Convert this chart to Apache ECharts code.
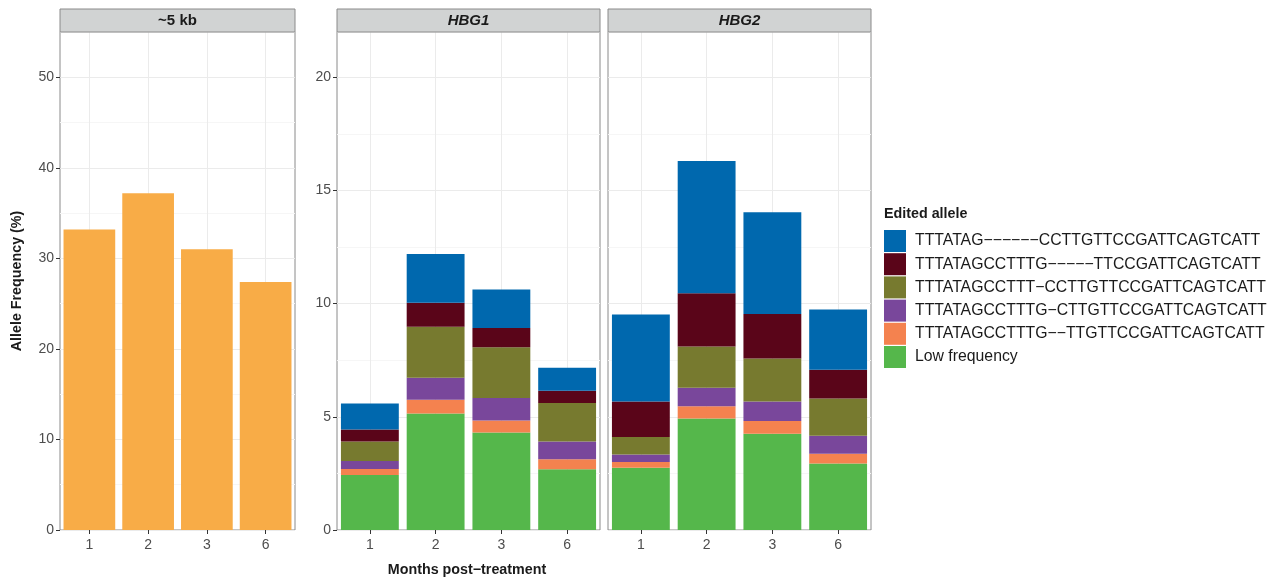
<!DOCTYPE html>
<html>
<head>
<meta charset="utf-8">
<script src="https://cdn.jsdelivr.net/npm/echarts@6/dist/echarts.min.js"></script>
<style>
html,body{margin:0;padding:0;background:#fff;}
#chart{width:1285px;height:582px;}
</style>
</head>
<body>
<div id="chart"></div>
<script>
// ---- data ----
const months = ['1', '2', '3', '6'];
const panelTitles = ['~5 kb', 'HBG1', 'HBG2'];
const kb5Values = [33.2, 37.2, 31.0, 27.4];
const alleleNames = [
  'TTTATAG\u2212\u2212\u2212\u2212\u2212\u2212CCTTGTTCCGATTCAGTCATT',
  'TTTATAGCCTTTG\u2212\u2212\u2212\u2212\u2212TTCCGATTCAGTCATT',
  'TTTATAGCCTTT\u2212CCTTGTTCCGATTCAGTCATT',
  'TTTATAGCCTTTG\u2212CTTGTTCCGATTCAGTCATT',
  'TTTATAGCCTTTG\u2212\u2212TTGTTCCGATTCAGTCATT',
  'Low frequency'
];
// HBG1 segments (bottom to top: low, orange, purple, olive, maroon, blue)
const hbg1Low    = [2.43, 5.15, 4.31, 2.68];
const hbg1Del2   = [0.26, 0.60, 0.53, 0.45];
const hbg1Del1G  = [0.36, 0.98, 0.99, 0.78];
const hbg1Del1T  = [0.86, 2.25, 2.24, 1.70];
const hbg1Del5   = [0.53, 1.06, 0.85, 0.54];
const hbg1Del6   = [1.15, 2.15, 1.71, 1.02];
// HBG2 segments
const hbg2Low    = [2.75, 4.93, 4.25, 2.94];
const hbg2Del2   = [0.25, 0.54, 0.56, 0.43];
const hbg2Del1G  = [0.33, 0.81, 0.87, 0.79];
const hbg2Del1T  = [0.78, 1.83, 1.90, 1.65];
const hbg2Del5   = [1.57, 2.35, 1.96, 1.27];
const hbg2Del6   = [3.84, 5.84, 4.50, 2.66];
const yTicksLeft = [0, 10, 20, 30, 40, 50];
const yTicksRight = [0, 5, 10, 15, 20];

// ---- styles ----
const alleleColors = ['#0068AE', '#5A0519', '#777A2F', '#79479B', '#F4824F', '#55B74B'];
const kbColor = '#F8AC47';
const FONT = 'Liberation Sans, Arial, sans-serif';
const grids = [
  {left: 60, top: 32, width: 235, height: 498},
  {left: 337, top: 32, width: 263, height: 498},
  {left: 608, top: 32, width: 263, height: 498}
];
const yMax = [55, 22, 22];
const showYLabels = [true, true, false];

const option = {
  animation: false,
  backgroundColor: '#ffffff',
  textStyle: {fontFamily: FONT},
  grid: grids.map(g => Object.assign({show: true, borderColor: '#8a8a8a', borderWidth: 1, backgroundColor: 'transparent', containLabel: false}, g)),
  xAxis: grids.map((g, i) => ({
    type: 'category', gridIndex: i, data: months, position: 'bottom',
    axisLine: {show: false},
    axisTick: {show: true, alignWithLabel: true, length: 4, lineStyle: {color: '#333'}},
    axisLabel: {color: '#4d4d4d', fontSize: 14, margin: 8, fontFamily: FONT},
    splitLine: {show: true, alignWithLabel: true, lineStyle: {color: '#EBEBEB', width: 1}}
  })),
  yAxis: [],
  legend: {
    orient: 'vertical', left: 884, top: 230, padding: 0,
    data: alleleNames,
    icon: 'rect', itemWidth: 22, itemHeight: 22, itemGap: 1.2,
    textStyle: {fontSize: 15.8, color: '#1a1a1a', fontFamily: FONT, padding: [0, 0, 0, 4]},
    selectedMode: false
  },
  series: [],
  graphic: []
};

// y axes: gridline axis (major/minor) + label axis per grid
grids.forEach((g, i) => {
  const ticks = i === 0 ? yTicksLeft : yTicksRight;
  const step = ticks[1] - ticks[0];
  option.yAxis.push({
    type: 'value', gridIndex: i, position: 'left', min: 0, max: yMax[i], interval: step / 2,
    axisLine: {show: false}, axisTick: {show: false}, axisLabel: {show: false},
    splitLine: {show: true, lineStyle: {color: ['#EBEBEB', '#F6F6F6'], width: 1}}
  });
  option.yAxis.push({
    type: 'value', gridIndex: i, position: 'left', offset: 0, min: 0, max: yMax[i], interval: step,
    axisLine: {show: false},
    axisTick: {show: showYLabels[i], length: 4, lineStyle: {color: '#333'}},
    axisLabel: {show: showYLabels[i], color: '#4d4d4d', fontSize: 14, margin: 6, fontFamily: FONT, showMaxLabel: false,
      formatter: v => (ticks.indexOf(v) >= 0 ? String(v) : '')},
    splitLine: {show: false}
  });
});

// ~5 kb bars
option.series.push({
  type: 'bar', name: '~5 kb', xAxisIndex: 0, yAxisIndex: 1,
  data: kb5Values, barCategoryGap: '12%',
  itemStyle: {color: kbColor}
});

const hbg1 = [hbg1Low, hbg1Del2, hbg1Del1G, hbg1Del1T, hbg1Del5, hbg1Del6];
const hbg2 = [hbg2Low, hbg2Del2, hbg2Del1G, hbg2Del1T, hbg2Del5, hbg2Del6];
// name index mapping: bottom->top = Low(5), del2(4), del1G(3), del1T(2), del5(1), del6(0)
const layerNameIdx = [5, 4, 3, 2, 1, 0];
[hbg1, hbg2].forEach((layers, k) => {
  layers.forEach((vals, j) => {
    const ni = layerNameIdx[j];
    option.series.push({
      type: 'bar', name: alleleNames[ni],
      xAxisIndex: k + 1, yAxisIndex: 2 * (k + 1) + 1,
      stack: 'stack' + k, data: vals, barCategoryGap: '12%',
      itemStyle: {color: alleleColors[ni]}
    });
  });
});

// facet strips
grids.forEach((g, i) => {
  option.graphic.push({
    type: 'rect', shape: {x: g.left, y: 9, width: g.width, height: 23},
    style: {fill: '#D1D3D3', stroke: '#8a8a8a', lineWidth: 1}, z: 10
  });
  option.graphic.push({
    type: 'text', x: g.left + g.width / 2, y: 20.5, z: 11,
    style: {text: panelTitles[i], fill: '#1a1a1a', fontSize: 15, fontWeight: 'bold',
      fontStyle: i === 0 ? 'normal' : 'italic', fontFamily: FONT,
      align: 'center', verticalAlign: 'middle'}
  });
});
// axis titles and legend title
option.graphic.push({
  type: 'text', x: 467, y: 570, z: 11,
  style: {text: 'Months post\u2212treatment', fill: '#1a1a1a', fontSize: 14.3, fontWeight: 'bold',
    fontFamily: FONT, align: 'center', verticalAlign: 'middle'}
});
option.graphic.push({
  type: 'text', x: 17, y: 281, rotation: Math.PI / 2, z: 11,
  style: {text: 'Allele Frequency (%)', fill: '#1a1a1a', fontSize: 14.3, fontWeight: 'bold',
    fontFamily: FONT, align: 'center', verticalAlign: 'middle'}
});
option.graphic.push({
  type: 'text', x: 884, y: 214, z: 11,
  style: {text: 'Edited allele', fill: '#1a1a1a', fontSize: 14.3, fontWeight: 'bold',
    fontFamily: FONT, align: 'left', verticalAlign: 'middle'}
});

const chart = echarts.init(document.getElementById('chart'), null, {renderer: 'canvas'});
chart.setOption(option);
</script>
</body>
</html>
